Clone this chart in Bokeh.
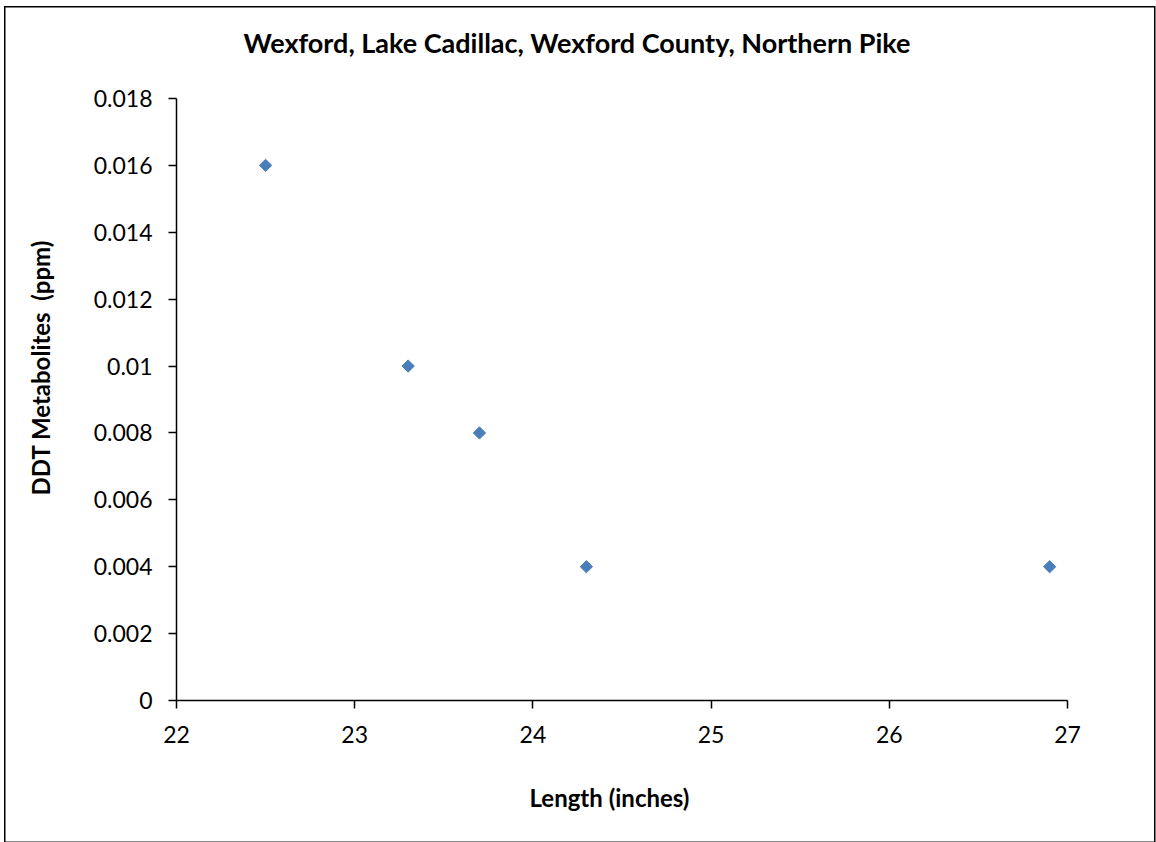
import numpy as np
from bokeh.plotting import figure
from bokeh.models import FixedTicker, Title, Range1d
from bokeh.embed import file_html
from bokeh.resources import INLINE

# ---- data ----
length_in = [22.5, 23.3, 23.7, 24.3, 26.9]
ddt_ppm = [0.016, 0.010, 0.008, 0.004, 0.004]

x_ticks = [22, 23, 24, 25, 26, 27]
x_tick_labels = ["22", "23", "24", "25", "26", "27"]
y_ticks = [0, 0.002, 0.004, 0.006, 0.008, 0.010, 0.012, 0.014, 0.016, 0.018]
y_tick_labels = ["0", "0.002", "0.004", "0.006", "0.008", "0.01", "0.012", "0.014", "0.016", "0.018"]

title_text = "Wexford, Lake Cadillac, Wexford County, Northern Pike"
x_title = "Length (inches)"
y_title = "DDT Metabolites \u00a0(ppm)"

FONT = "Lato"
BLUE = "#4A7EBB"

p = figure(
    frame_width=891, frame_height=602,
    min_border_left=200, min_border_right=89,
    min_border_top=120, min_border_bottom=142,
    x_range=Range1d(x_ticks[0], x_ticks[-1]),
    y_range=Range1d(y_ticks[0], y_ticks[-1]),
    output_backend="svg", toolbar_location=None,
    background_fill_color=None, border_fill_color=None,
)
# outer chart border (thin dark frame around the whole chart)
border_css = ", ".join([
    "linear-gradient(#000,#000) 28px 28px / 1.5px 836px no-repeat",
    "linear-gradient(#000,#000) 28px 28px / 1151px 1.5px no-repeat",
    "linear-gradient(#000,#000) 1177.5px 28px / 1.5px 836px no-repeat",
    "linear-gradient(#888,#888) 28px 862.5px / 1151px 1.5px no-repeat",
])
p.styles = {"margin-left": "-24px", "margin-top": "-22px", "background": border_css}
p.grid.visible = False
p.outline_line_color = None

p.scatter(length_in, ddt_ppm, marker="square", angle=np.pi / 4, size=8.7,
          fill_color=BLUE, line_color=BLUE)

for ax in (p.xaxis[0], p.yaxis[0]):
    ax.axis_line_color = "#000000"
    ax.axis_line_width = 1.5
    ax.major_tick_line_color = "#000000"
    ax.major_tick_line_width = 1.5
    ax.major_tick_in = 0
    ax.major_tick_out = 8
    ax.minor_tick_line_color = None
    ax.major_label_text_font = FONT
    ax.major_label_text_font_size = "23px"
    ax.major_label_text_color = "#000000"

p.xaxis[0].ticker = FixedTicker(ticks=x_ticks)
p.xaxis[0].major_label_overrides = {t: l for t, l in zip(x_ticks, x_tick_labels)}
p.xaxis[0].major_label_standoff = 17
p.yaxis[0].ticker = FixedTicker(ticks=y_ticks)
p.yaxis[0].major_label_overrides = {t: l for t, l in zip(y_ticks, y_tick_labels)}
p.yaxis[0].major_label_standoff = 16

# chart title
p.add_layout(Title(text=title_text, align="left", offset=67, standoff=80,
                   text_font=FONT, text_font_size="27px", text_font_style="bold",
                   text_color="#000000"), "above")
# x axis title
p.add_layout(Title(text=x_title, align="left", offset=353, standoff=70,
                   text_font=FONT, text_font_size="24px", text_font_style="bold",
                   text_color="#000000"), "below")
# y axis title
p.add_layout(Title(text=y_title, align="left", offset=205, standoff=72,
                   text_font=FONT, text_font_size="24px", text_font_style="bold",
                   text_color="#000000"), "left")

open("out.html", "w").write(file_html(p, INLINE))
